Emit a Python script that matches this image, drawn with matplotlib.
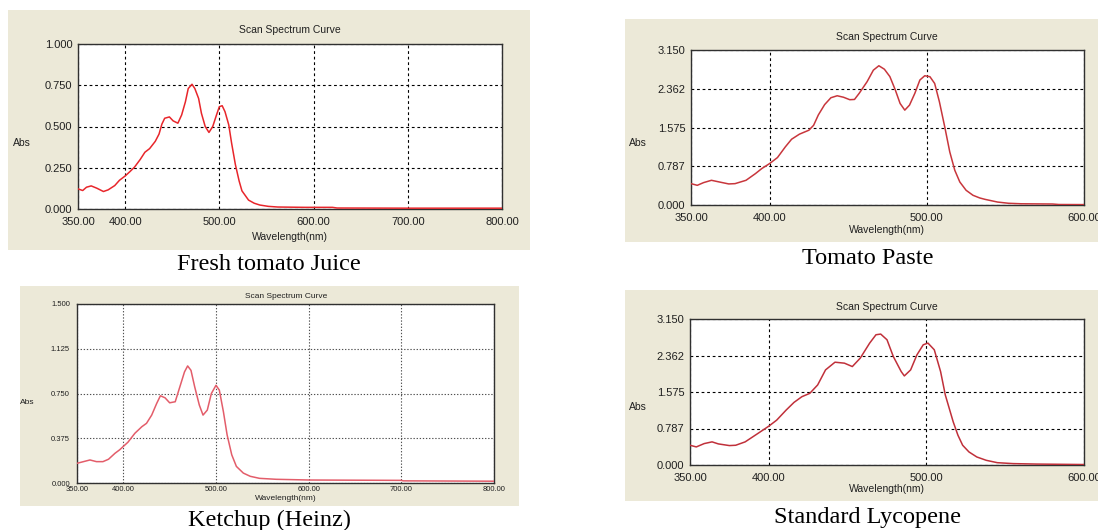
import numpy as np
import matplotlib
matplotlib.use("Agg")
import matplotlib.pyplot as plt
from matplotlib.patches import Rectangle

# ---- data (wavelength nm, absorbance) ----
juice_wl = [350, 355, 359, 364, 370, 377, 382, 389, 394, 400, 405, 410, 416, 421,
            426, 432, 436, 439, 442, 447, 451, 456, 460, 464, 467, 471, 474, 478,
            481, 485, 489, 493, 497, 500, 503, 506, 510, 513, 517, 521, 524, 531,
            537, 543, 552, 562, 591, 620, 625, 700, 800]
juice_abs = [0.122, 0.112, 0.132, 0.140, 0.126, 0.106, 0.116, 0.142, 0.174, 0.200,
             0.226, 0.254, 0.300, 0.344, 0.366, 0.410, 0.454, 0.514, 0.550, 0.558,
             0.534, 0.520, 0.570, 0.650, 0.730, 0.756, 0.730, 0.670, 0.580, 0.500,
             0.464, 0.500, 0.570, 0.620, 0.626, 0.590, 0.510, 0.400, 0.270, 0.170,
             0.110, 0.054, 0.035, 0.024, 0.016, 0.012, 0.010, 0.010, 0.006, 0.005,
             0.005]

paste_wl = [350, 354, 358, 363, 368, 374, 378, 385, 391, 395, 400, 405, 410, 414,
            419, 425, 428, 431, 435, 439, 443, 447, 451, 454, 457, 462, 466, 469.5,
            473, 476.5, 480, 483, 486, 489, 492.4, 495.6, 498.7, 502, 505, 508,
            511.4, 514.6, 517.8, 521, 525, 529.4, 533.7, 537, 545, 552, 560, 580,
            584, 600]
paste_abs = [0.434, 0.400, 0.455, 0.502, 0.468, 0.428, 0.434, 0.502, 0.638, 0.740,
             0.842, 0.964, 1.181, 1.337, 1.440, 1.520, 1.620, 1.830, 2.040, 2.180,
             2.220, 2.190, 2.140, 2.145, 2.270, 2.505, 2.740, 2.830, 2.760, 2.610,
             2.335, 2.064, 1.928, 2.030, 2.270, 2.540, 2.627, 2.607, 2.470, 2.100,
             1.590, 1.080, 0.706, 0.468, 0.299, 0.197, 0.143, 0.115, 0.060, 0.035,
             0.025, 0.020, 0.010, 0.008]

ketchup_wl = [350, 357, 364, 371, 378, 384, 391, 396, 405, 412.5, 420, 425, 430.6,
              436, 440, 445, 450, 456, 461, 466, 469.4, 473, 477, 482, 486, 490.6,
              495, 500, 503.6, 508, 512, 517, 522, 529.5, 537, 547, 565, 601, 700,
              702, 800]
ketchup_abs = [0.165, 0.179, 0.193, 0.179, 0.179, 0.199, 0.249, 0.278, 0.342, 0.417,
               0.472, 0.500, 0.569, 0.667, 0.731, 0.714, 0.672, 0.681, 0.806, 0.931,
               0.981, 0.944, 0.806, 0.653, 0.569, 0.611, 0.750, 0.819, 0.778, 0.597,
               0.403, 0.236, 0.139, 0.083, 0.056, 0.039, 0.031, 0.025, 0.022, 0.018,
               0.015]

lyco_wl = [350, 354, 359, 364, 368, 375, 379, 385, 393, 400, 405, 411, 416, 421,
           426, 431, 436, 442, 448, 453, 458, 464, 468, 471, 475, 479, 484, 486,
           490, 494, 498, 501, 505, 509, 512, 517, 520, 523, 527, 532, 538, 545,
           555, 570, 600]
lyco_abs = [0.426, 0.390, 0.462, 0.499, 0.455, 0.419, 0.426, 0.499, 0.679, 0.838,
            0.968, 1.185, 1.351, 1.474, 1.546, 1.727, 2.052, 2.218, 2.197, 2.124,
            2.305, 2.630, 2.810, 2.825, 2.702, 2.341, 2.016, 1.922, 2.052, 2.377,
            2.594, 2.630, 2.486, 2.016, 1.510, 0.932, 0.643, 0.426, 0.282, 0.173,
            0.101, 0.050, 0.030, 0.020, 0.010]

wide_xticks = [350, 400, 500, 600, 700, 800]
narrow_xticks = [350, 400, 500, 600]
yticks_1 = [0, 0.25, 0.5, 0.75, 1.0]
yticks_15 = [0, 0.375, 0.75, 1.125, 1.5]
yticks_315 = [0, 0.7875, 1.575, 2.3625, 3.15]
ylabels_315 = ["0.000", "0.787", "1.575", "2.362", "3.150"]

W, H = 1098, 530
BG = "#ece9d8"
fig = plt.figure(figsize=(W / 100, H / 100), dpi=100)
fig.patch.set_facecolor("white")


def fx(x):
    return x / W


def fy(y):
    return 1 - y / H


def panel(box, plot, wl, ab, xlim, ylim, xt, yt, ylab, color, caption, texts,
          small=False):
    # beige window behind the graph
    x0, y0, x1, y1 = box
    fig.patches.append(Rectangle((fx(x0), fy(y1)), fx(x1 - x0), (y1 - y0) / H,
                                 transform=fig.transFigure, facecolor=BG,
                                 edgecolor="none", zorder=-10))
    l, t, r, b = plot
    ax = fig.add_axes([fx(l), fy(b), fx(r - l), (b - t) / H])
    ax.set_facecolor("white")
    ax.plot(wl, ab, color=color, lw=1.1, zorder=3)
    ax.set_xlim(*xlim)
    ax.set_ylim(*ylim)
    ax.set_xticks(xt)
    ax.set_xticklabels(["%.2f" % v for v in xt])
    ax.set_yticks(yt)
    ax.set_yticklabels(ylab)
    fs = 5.5 if small else 8
    gstyle = (0, (1.2, 1.6)) if small else (0, (2.5, 2.5))
    gcol = "#505050" if small else "black"
    ax.grid(True, color=gcol, linestyle=gstyle, lw=0.8)
    ax.tick_params(length=0, labelsize=fs, pad=2 if small else 6,
                   labelfontfamily="Liberation Sans", colors="#202020")
    ax.tick_params(axis="y", pad=5 if small else 4)
    for s in ax.spines.values():
        s.set_color("#303030")
        s.set_linewidth(1.0)
    tfs = 6 if small else 7.5
    title_xy, abs_xy, xl_xy, cap_xy = texts
    fig.text(fx(title_xy[0]), fy(title_xy[1]), "Scan Spectrum Curve", ha="center",
             va="center", fontsize=tfs, family="Liberation Sans", color="#202020")
    fig.text(fx(abs_xy[0]), fy(abs_xy[1]), "Abs", ha="center", va="center",
             fontsize=tfs, family="Liberation Sans", color="#202020")
    fig.text(fx(xl_xy[0]), fy(xl_xy[1]), "Wavelength(nm)", ha="center", va="center",
             fontsize=tfs, family="Liberation Sans", color="#202020")
    fig.text(fx(cap_xy[0]), fy(cap_xy[1]), caption, ha="center", va="center",
             fontsize=17.5, family="Liberation Serif", color="black")
    return ax


panel((8, 10, 530, 250), (78, 44, 502, 209), juice_wl, juice_abs, (350, 800), (0, 1.0),
      wide_xticks, yticks_1, ["%.3f" % v for v in yticks_1], "#e8262b",
      "Fresh tomato Juice", ((290, 30), (22, 143), (290, 237), (269, 265)))

panel((625, 19, 1100, 242), (691, 50, 1084, 205), paste_wl, paste_abs, (350, 600),
      (0, 3.15), narrow_xticks, yticks_315, ylabels_315, "#c8363c",
      "Tomato Paste", ((887, 37), (638, 143), (887, 230), (868, 258)))

panel((20, 286, 519, 506), (77, 304, 494, 483), ketchup_wl, ketchup_abs, (350, 800),
      (0, 1.5), wide_xticks, yticks_15, ["%.3f" % v for v in yticks_15], "#e35d6a",
      "Ketchup (Heinz)", ((286, 297), (27, 403), (286, 499), (269, 520)), small=True)

panel((625, 290, 1100, 501), (690, 319, 1084, 465), lyco_wl, lyco_abs, (350, 600),
      (0, 3.15), narrow_xticks, yticks_315, ylabels_315, "#c0303a",
      "Standard Lycopene", ((887, 307), (638, 407), (887, 489), (867, 517)))

fig.savefig("out.png", dpi=100)
